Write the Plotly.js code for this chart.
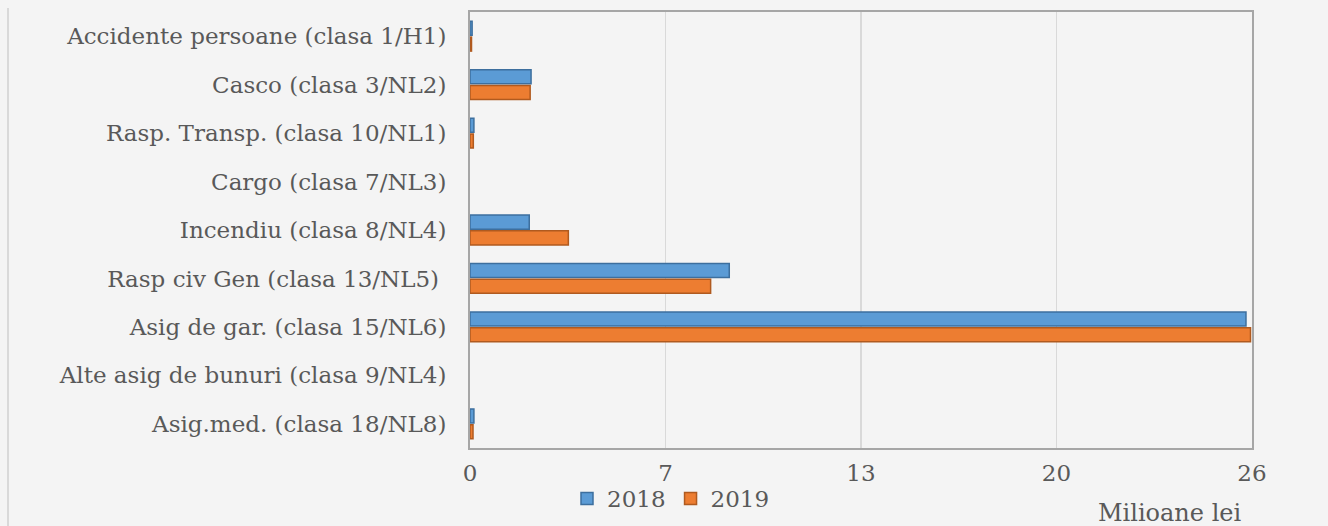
<!DOCTYPE html>
<html>
<head>
<meta charset="utf-8">
<script src="https://cdn.plot.ly/plotly-3.0.1.min.js"></script>
<style>
  html, body { margin: 0; padding: 0; background: #f4f4f4; }
  #chart { width: 1328px; height: 526px; }
</style>
</head>
<body>
<div id="chart"></div>
<script>
const categories = [
  "Accidente persoane (clasa 1/H1)",
  "Casco (clasa 3/NL2)",
  "Rasp. Transp. (clasa 10/NL1)",
  "Cargo (clasa 7/NL3)",
  "Incendiu (clasa 8/NL4)",
  "Rasp civ Gen (clasa 13/NL5) ",
  "Asig de gar. (clasa 15/NL6)",
  "Alte asig de bunuri (clasa 9/NL4)",
  "Asig.med. (clasa 18/NL8)"
];
const values2018 = [0.07, 2.03, 0.13, 0, 1.97, 8.62, 25.8, 0, 0.13];
const values2019 = [0.05, 2.0, 0.11, 0, 3.27, 8.0, 25.95, 0, 0.1];
const seriesNames = ["2018", "2019"];
const tickVals = [0, 6.5, 13, 19.5, 26];
const tickLabels = ["0", "7", "13", "20", "26"];

const W = 1328, H = 526;
const mL = 470, mR = 76, mT = 12, mB = 78;
const pw = W - mL - mR, ph = H - mT - mB;
const px2x = p => (p - mL) / pw;
const py2y = p => 1 - (p - mT) / ph;

const font = "DejaVu Serif, serif";
const txt = "#595959";
const lw = vals => vals.map(v => (v > 0 ? 1.5 : 0));

const traces = [
  {
    type: "bar", orientation: "h", name: seriesNames[0],
    y: categories, x: values2018,
    marker: { color: "#5b9bd5", line: { color: "#3d6f9e", width: lw(values2018) } },
    hoverinfo: "x+y"
  },
  {
    type: "bar", orientation: "h", name: seriesNames[1],
    y: categories, x: values2019,
    marker: { color: "#ed7d31", line: { color: "#b05a1f", width: lw(values2019) } },
    hoverinfo: "x+y"
  }
];

const layout = {
  width: W, height: H,
  margin: { l: mL, r: mR, t: mT, b: mB, autoexpand: false },
  paper_bgcolor: "#f4f4f4",
  plot_bgcolor: "#f4f4f4",
  barmode: "group",
  bargap: 0.35,
  bargroupgap: 0.11,
  font: { family: font, color: txt, size: 23 },
  showlegend: true,
  legend: {
    orientation: "h",
    x: px2x(567), xanchor: "left",
    y: py2y(477), yanchor: "top",
    bgcolor: "rgba(0,0,0,0)",
    font: { family: font, size: 23, color: txt },
    itemwidth: 30,
    tracegroupgap: 0
  },
  xaxis: {
    range: [0, 26],
    tickvals: tickVals,
    ticktext: tickLabels,
    showgrid: true,
    gridcolor: "#d9d9d9",
    gridwidth: 1.5,
    zeroline: false,
    showline: true,
    linecolor: "#a6a6a6",
    linewidth: 2,
    mirror: true,
    ticks: "",
    ticklabelstandoff: 3,
    tickfont: { family: font, size: 23, color: txt },
    automargin: false,
    fixedrange: true
  },
  yaxis: {
    type: "category",
    autorange: "reversed",
    showgrid: false,
    zeroline: false,
    showline: true,
    linecolor: "#a6a6a6",
    linewidth: 2,
    mirror: true,
    ticks: "",
    ticklabelstandoff: 17,
    tickfont: { family: font, size: 23, color: txt },
    automargin: false,
    fixedrange: true
  },
  annotations: [
    {
      text: "Milioane lei",
      xref: "paper", yref: "paper",
      x: px2x(1244), y: py2y(513),
      xanchor: "right", yanchor: "middle",
      showarrow: false,
      font: { family: font, size: 24, color: txt }
    }
  ],
  shapes: [
    {
      type: "line", xref: "paper", yref: "paper",
      x0: px2x(8), x1: px2x(8), y0: py2y(8), y1: py2y(526),
      line: { color: "#d0d0d0", width: 1.5 }
    }
  ]
};

Plotly.newPlot("chart", traces, layout, { displayModeBar: false, staticPlot: true });
</script>
</body>
</html>
